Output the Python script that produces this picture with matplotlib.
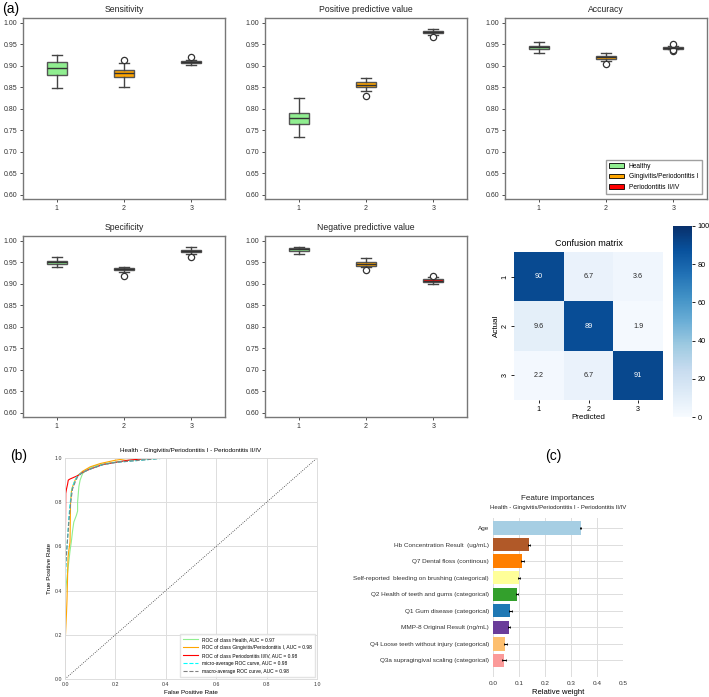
import matplotlib
matplotlib.use("Agg")
import matplotlib.pyplot as plt
import matplotlib.patches as mpatches
import numpy as np
import seaborn as sns

plt.rcParams['font.family'] = ['Liberation Sans', 'DejaVu Sans']

W, H = 709, 697

# ---------------- data ----------------
groups = ["1", "2", "3"]
legend_names = ["Healthy", "Gingivitis/Periodontitis I", "Periodontitis II/IV"]
box_colors = ["#90ee90", "#ffa500", "#ff0000"]

# per metric: whislo, q1, med, q3, whishi for groups 1..3, plus fliers
sens_stats = [(0.848, 0.878, 0.894, 0.909, 0.924), (0.850, 0.873, 0.882, 0.889, 0.906), (0.902, 0.906, 0.909, 0.911, 0.914)]
sens_fliers = [[], [0.913], [0.921]]
ppv_stats = [(0.734, 0.765, 0.778, 0.789, 0.824), (0.842, 0.851, 0.856, 0.861, 0.871), (0.971, 0.975, 0.978, 0.980, 0.985)]
ppv_fliers = [[], [0.830], [0.966]]
acc_stats = [(0.929, 0.938, 0.943, 0.947, 0.956), (0.910, 0.916, 0.920, 0.923, 0.930), (0.938, 0.940, 0.942, 0.944, 0.947)]
acc_fliers = [[], [0.904], [0.950, 0.935, 0.937]]
spec_stats = [(0.938, 0.947, 0.951, 0.954, 0.961), (0.927, 0.931, 0.934, 0.936, 0.939), (0.968, 0.973, 0.977, 0.979, 0.985)]
spec_fliers = [[], [0.918], [0.963]]
npv_stats = [(0.970, 0.976, 0.980, 0.983, 0.986), (0.938, 0.942, 0.946, 0.950, 0.960), (0.899, 0.903, 0.907, 0.910, 0.915)]
npv_fliers = [[], [0.933], [0.919]]

cm_values = [[90, 6.7, 3.6], [9.6, 89, 1.9], [2.2, 6.7, 91]]

roc_health_fpr = [0, 0, 0.005, 0.01, 0.015, 0.02, 0.025, 0.03, 0.035, 0.045, 0.05, 0.05, 0.055, 0.06, 0.07, 0.09, 0.12, 0.16, 0.22, 0.3, 0.4, 1.0]
roc_health_tpr = [0, 0.36, 0.43, 0.48, 0.53, 0.58, 0.62, 0.67, 0.71, 0.74, 0.76, 0.80, 0.87, 0.90, 0.93, 0.95, 0.965, 0.975, 0.985, 0.995, 1.0, 1.0]
roc_ging_fpr = [0, 0, 0.004, 0.006, 0.008, 0.01, 0.012, 0.015, 0.02, 0.022, 0.026, 0.03, 0.04, 0.05, 0.07, 0.1, 0.14, 0.2, 0.26, 1.0]
roc_ging_tpr = [0, 0.15, 0.25, 0.3, 0.36, 0.45, 0.55, 0.58, 0.62, 0.80, 0.855, 0.87, 0.90, 0.92, 0.94, 0.96, 0.975, 0.99, 1.0, 1.0]
roc_perio_fpr = [0, 0, 0.003, 0.006, 0.01, 0.013, 0.02, 0.03, 0.05, 0.07, 0.1, 0.15, 0.2, 0.25, 0.35, 1.0]
roc_perio_tpr = [0, 0.40, 0.84, 0.86, 0.88, 0.90, 0.905, 0.91, 0.92, 0.935, 0.95, 0.97, 0.98, 0.99, 1.0, 1.0]
roc_micro_fpr = [0, 0, 0.004, 0.008, 0.012, 0.016, 0.02, 0.025, 0.03, 0.04, 0.05, 0.07, 0.1, 0.15, 0.2, 0.3, 0.4, 1.0]
roc_micro_tpr = [0, 0.42, 0.52, 0.60, 0.67, 0.74, 0.79, 0.84, 0.87, 0.90, 0.92, 0.935, 0.95, 0.97, 0.98, 0.99, 1.0, 1.0]
roc_macro_fpr = [0, 0, 0.004, 0.008, 0.012, 0.016, 0.02, 0.025, 0.03, 0.04, 0.05, 0.07, 0.1, 0.15, 0.2, 0.3, 0.4, 1.0]
roc_macro_tpr = [0, 0.46, 0.54, 0.60, 0.66, 0.72, 0.77, 0.82, 0.86, 0.89, 0.915, 0.935, 0.95, 0.97, 0.98, 0.99, 1.0, 1.0]
roc_labels = ["ROC of class Health, AUC = 0.97",
              "ROC of class Gingivitis/Periodontitis I, AUC = 0.98",
              "ROC of class Periodontitis II/IV, AUC = 0.98",
              "micro-average ROC curve, AUC = 0.98",
              "macro-average ROC curve, AUC = 0.98"]

features = ["Age", "Hb Concentration Result  (ug/mL)", "Q7 Dental floss (continous)",
            "Self-reported  bleeding on brushing (categorical)", "Q2 Health of teeth and gums (categorical)",
            "Q1 Gum disease (categorical)", "MMP-8 Original Result (ng/mL)",
            "Q4 Loose teeth without injury (categorical)", "Q3a supragingival scaling (categorical)"]
importances = [0.337, 0.140, 0.113, 0.100, 0.092, 0.067, 0.062, 0.047, 0.042]
importance_err = [0.003, 0.004, 0.005, 0.004, 0.005, 0.005, 0.004, 0.006, 0.009]
feature_colors = ["#a6cee3", "#b15928", "#ff7f00", "#ffff99", "#33a02c", "#1f78b4", "#6a3d9a", "#fdbf6f", "#fb9a99"]

# ---------------- figure ----------------
fig = plt.figure(figsize=(W / 100, H / 100), dpi=100)


def rect(l, t, r, b):
    return [l / W, 1 - b / H, (r - l) / W, (b - t) / H]


def box_panel(r, title, stats, fliers, legend=False):
    ax = fig.add_axes(rect(*r))
    bx = []
    for i, (s, f) in enumerate(zip(stats, fliers)):
        bx.append(dict(whislo=s[0], q1=s[1], med=s[2], q3=s[3], whishi=s[4], fliers=f, label=groups[i]))
    bp = ax.bxp(bx, positions=[1, 2, 3], widths=0.3, patch_artist=True,
                boxprops=dict(edgecolor="#555555", linewidth=1.0),
                whiskerprops=dict(color="#444444", linewidth=1.0),
                capprops=dict(color="#444444", linewidth=1.0),
                medianprops=dict(color="#333333", linewidth=1.0),
                flierprops=dict(marker="o", markerfacecolor="white", markeredgecolor="#333333",
                                markersize=4.5, markeredgewidth=0.9))
    for p, c in zip(bp["boxes"], box_colors):
        p.set_facecolor(c)
    ax.set_xlim(0.5, 3.5)
    ax.set_ylim(0.59, 1.011)
    ax.set_yticks(np.arange(0.60, 1.001, 0.05))
    ax.set_yticklabels([f"{v:.2f}" for v in np.arange(0.60, 1.001, 0.05)])
    ax.tick_params(labelsize=5, length=2, width=0.6, colors="#333333", pad=2)
    for s in ax.spines.values():
        s.set_color("#777777")
        s.set_linewidth(1.0)
    ax.set_title(title, fontsize=6.2, pad=4, color="#222222")
    if legend:
        handles = [mpatches.Patch(facecolor=c, edgecolor="black", linewidth=0.6, label=n)
                   for c, n in zip(box_colors, legend_names)]
        ax.legend(handles=handles, loc="lower right", fontsize=4.8, frameon=True,
                  fancybox=False, edgecolor="#888888", handlelength=2.2, borderpad=0.5,
                  bbox_to_anchor=(0.99, 0.01))
    return ax


box_panel((23, 18, 225, 199), "Sensitivity", sens_stats, sens_fliers)
box_panel((265, 18, 467, 199), "Positive predictive value", ppv_stats, ppv_fliers)
box_panel((505, 18, 707, 199), "Accuracy", acc_stats, acc_fliers, legend=True)
box_panel((23, 236, 225, 417), "Specificity", spec_stats, spec_fliers)
box_panel((265, 236, 467, 417), "Negative predictive value", npv_stats, npv_fliers)

# confusion matrix
axc = fig.add_axes(rect(514, 252, 663, 400))
cax = fig.add_axes(rect(673, 226, 692, 417))
sns.heatmap(np.array(cm_values), ax=axc, cbar_ax=cax, cmap="Blues", vmin=0, vmax=100,
            annot=True, fmt="g", annot_kws={"fontsize": 5.2},
            xticklabels=groups, yticklabels=groups)
axc.set_title("Confusion matrix", fontsize=6.5, pad=4)
axc.set_xlabel("Predicted", fontsize=5.8, labelpad=1)
axc.set_ylabel("Actual", fontsize=5.8, labelpad=1)
axc.tick_params(labelsize=5.2, length=2, width=0.6, pad=2)
axc.set_yticklabels(groups, rotation=90, va="center")
cax.tick_params(labelsize=5.2, length=2, width=0.6, pad=2)
cax.set_yticks([0, 20, 40, 60, 80, 100])
for s in cax.spines.values():
    s.set_visible(False)

# ROC
axr = fig.add_axes(rect(65, 458, 317, 679))
axr.plot(roc_health_fpr, roc_health_tpr, color="#90ee90", lw=0.8, label=roc_labels[0])
axr.plot(roc_ging_fpr, roc_ging_tpr, color="#ffa500", lw=0.8, label=roc_labels[1])
axr.plot(roc_perio_fpr, roc_perio_tpr, color="#ff0000", lw=0.8, label=roc_labels[2])
axr.plot(roc_micro_fpr, roc_micro_tpr, color="#00ffff", lw=0.8, ls="--", label=roc_labels[3])
axr.plot(roc_macro_fpr, roc_macro_tpr, color="#808080", lw=0.8, ls="--", label=roc_labels[4])
axr.plot([0, 1], [0, 1], color="#333333", lw=0.6, ls=":")
axr.set_xlim(0, 1)
axr.set_ylim(0, 1)
axr.set_xticks(np.arange(0, 1.01, 0.2))
axr.set_yticks(np.arange(0, 1.01, 0.2))
axr.grid(True, color="#dddddd", lw=0.7)
axr.set_axisbelow(True)
for s in axr.spines.values():
    s.set_color("#dddddd")
    s.set_linewidth(0.7)
axr.tick_params(labelsize=3.8, length=0, pad=2, colors="#333333")
axr.set_xlabel("False Positive Rate", fontsize=4.5, labelpad=2)
axr.set_ylabel("True Positive Rate", fontsize=4.5, labelpad=2)
axr.set_title("Health - Gingivitis/Periodontitis I - Periodontitis II/IV", fontsize=4.5, pad=4)
axr.legend(loc="lower right", fontsize=3.5, frameon=True, fancybox=False, edgecolor="#dddddd",
           handlelength=3, borderpad=0.6, labelspacing=0.6)

# Feature importances
axf = fig.add_axes(rect(493, 518, 623, 677))
ypos = np.arange(len(features))
axf.barh(ypos, importances, height=0.8, color=feature_colors, xerr=importance_err,
         error_kw=dict(ecolor="black", elinewidth=0.8, capsize=0.8, capthick=0.6), zorder=2)
axf.set_yticks(ypos)
axf.set_yticklabels(features)
axf.set_ylim(9.0, -0.6)
axf.set_xlim(0, 0.5)
axf.set_xticks(np.arange(0, 0.51, 0.1))
axf.set_xticklabels([f"{v:.1f}" for v in np.arange(0, 0.51, 0.1)])
axf.grid(True, color="#dddddd", lw=0.7, zorder=0)
axf.set_axisbelow(True)
for s in axf.spines.values():
    s.set_visible(False)
axf.tick_params(labelsize=4.6, length=0, pad=3, colors="#333333")
axf.set_xlabel("Relative weight", fontsize=5.5, labelpad=2)
fig.text(558 / W, 1 - 498 / H, "Feature importances", fontsize=5.8, ha="center", va="center", color="#222222")
fig.text(558 / W, 1 - 507 / H, "Health - Gingivitis/Periodontitis I - Periodontitis II/IV", fontsize=4.3,
         ha="center", va="center", color="#222222")

# panel labels
fig.text(2 / W, 1 - 9 / H, "(a)", fontsize=10, ha="left", va="center")
fig.text(10 / W, 1 - 456 / H, "(b)", fontsize=10, ha="left", va="center")
fig.text(545 / W, 1 - 456 / H, "(c)", fontsize=10, ha="left", va="center")

fig.savefig("out.png", dpi=100)
